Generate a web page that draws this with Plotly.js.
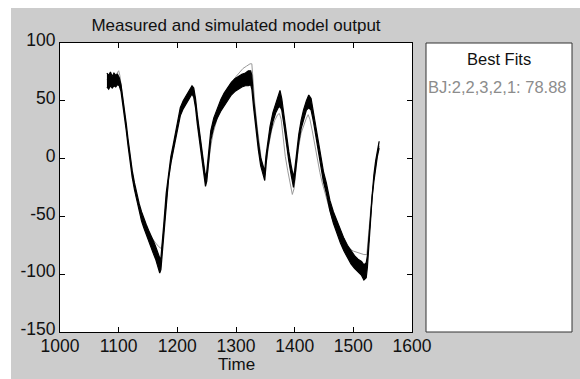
<!DOCTYPE html>
<html>
<head>
<meta charset="utf-8">
<script src="https://cdn.plot.ly/plotly-3.0.1.min.js"></script>
<style>html,body{margin:0;padding:0;background:#fff;}#chart{width:580px;height:379px;}</style>
</head>
<body>
<div id="chart"></div>
<script>
// Measured output: noisy band read as lower / upper envelope
var measTime = [1080,1083,1086,1089,1092,1095,1098,1101,1104,1107,1110,1113,1116,1119,1123,1127,1131,1135,1139,1143,1147,1151,1155,1159,1163,1167,1170,1172,1174,1177,1181,1185,1189,1193,1197,1201,1205,1210,1216,1221,1225,1228,1231,1234,1238,1242,1245,1248,1250,1253,1257,1262,1268,1274,1280,1286,1292,1298,1304,1310,1316,1321,1325,1327,1330,1334,1338,1342,1346,1349,1351,1354,1358,1363,1368,1372,1375,1378,1382,1386,1390,1394,1398,1400,1403,1407,1411,1415,1420,1424,1428,1432,1436,1440,1445,1449,1454,1460,1466,1472,1478,1484,1490,1496,1502,1508,1514,1518,1522,1524,1526,1529,1532,1535,1538,1541,1544];
var measLow  = [62,60,63,61,63,62,64,63,58,48,37,24,11,-3,-16,-27,-37,-46,-54,-60,-66,-72,-77,-82,-87,-93,-99,-96,-84,-62,-36,-18,-4,6,17,28,37,43,48,53,56,53,44,30,13,-2,-14,-24,-20,-2,16,27,35,41,46,51,55,58,60,62,63,63,64,60,44,24,8,-6,-14,-19,-6,8,20,32,40,44,45,42,28,12,-2,-14,-25,-18,-2,14,26,34,42,44,42,32,20,8,-6,-20,-30,-45,-56,-65,-73,-80,-86,-91,-95,-98,-101,-105,-103,-94,-78,-56,-34,-20,-8,2,9];
var measHigh = [74,72,75,71,74,72,73,70,64,54,43,30,17,3,-10,-21,-31,-39,-46,-52,-57,-62,-66,-71,-76,-81,-86,-86,-76,-56,-30,-12,2,12,23,34,44,50,55,60,63,61,52,38,21,6,-6,-16,-12,6,24,35,44,51,57,62,66,69,71,73,74,76,76,72,52,32,15,1,-7,-11,2,15,28,40,48,54,59,52,36,20,6,-6,-16,-10,6,21,33,42,50,55,52,40,28,15,2,-11,-21,-36,-46,-54,-62,-69,-75,-80,-84,-87,-89,-92,-90,-84,-70,-50,-28,-14,-2,8,15];
// Simulated model output (BJ model)
var simTime  = [1080,1084,1088,1092,1096,1100,1102,1106,1110,1114,1118,1122,1126,1130,1134,1138,1143,1148,1153,1158,1163,1168,1173,1175,1178,1182,1186,1190,1195,1200,1205,1210,1216,1221,1225,1227,1230,1233,1237,1241,1245,1248,1250,1252,1256,1261,1267,1273,1280,1287,1294,1300,1306,1312,1318,1324,1327,1329,1332,1336,1340,1344,1348,1350,1352,1356,1361,1366,1371,1374,1377,1380,1384,1388,1392,1396,1399,1402,1406,1411,1416,1420,1423,1426,1430,1434,1438,1443,1447,1452,1458,1464,1470,1476,1482,1488,1494,1500,1506,1512,1518,1523,1525,1528,1532,1535,1538,1541,1544];
var simValue = [68,71,70,72,73,76,72,58,40,22,6,-10,-22,-33,-42,-49,-56,-62,-66,-70,-73,-76,-78,-72,-58,-34,-14,0,14,27,38,45,50,55,59,60,52,40,22,6,-8,-18,-20,-10,8,22,34,44,53,60,66,71,75,78,80,82,82,68,48,28,10,-4,-13,-14,-2,12,25,33,38,39,34,18,2,-10,-22,-31,-26,-12,8,22,30,35,38,34,24,12,0,-12,-21,-30,-42,-52,-60,-66,-71,-75,-78,-80,-81,-82,-83,-83,-70,-50,-30,-18,-6,4,11];
var xTicks = [1000,1100,1200,1300,1400,1500,1600];
var yTicks = [-150,-100,-50,0,50,100];
var chartTitle = 'Measured and simulated model output';
var xTitle = 'Time';
var panelTitle = 'Best Fits';
var fitLabel = 'BJ:2,2,3,2,1: 78.88';

var FONT = 'Liberation Sans, Arial, sans-serif';
var W = 580, H = 379, L = 60, R = 168, T = 43, B = 47;
var pw = W - L - R, ph = H - T - B;
function px(x){ return (x - L) / pw; }
function py(y){ return (H - B - y) / ph; }

var traces = [
  {x: simTime, y: simValue, mode: 'lines', line: {color: '#999999', width: 1}, hoverinfo: 'skip'},
  {x: measTime, y: measLow, mode: 'lines', line: {color: '#000', width: 1.2}, hoverinfo: 'skip'},
  {x: measTime, y: measHigh, mode: 'lines', fill: 'tonexty', fillcolor: '#000', line: {color: '#000', width: 1.2}, hoverinfo: 'skip'}
];

var axisCommon = {
  showline: true, linecolor: '#000', linewidth: 1, mirror: 'ticks',
  ticks: 'inside', ticklen: 5, tickcolor: '#000', tickwidth: 1,
  showgrid: false, zeroline: false,
  tickfont: {family: FONT, size: 17.5, color: '#111'}
};

var layout = {
  width: W, height: H,
  margin: {l: L, r: R, t: T, b: B, pad: 0},
  paper_bgcolor: '#cccccc', plot_bgcolor: '#ffffff',
  showlegend: false, hovermode: false,
  title: {text: chartTitle, font: {family: FONT, size: 17, color: '#111'}, xref: 'paper', x: 0.5, xanchor: 'center', yref: 'container', y: 1 - 25/H, yanchor: 'middle'},
  xaxis: Object.assign({}, axisCommon, {range: [1000, 1600], tickvals: xTicks, ticktext: xTicks.map(String), ticklabelstandoff: -2}),
  yaxis: Object.assign({}, axisCommon, {range: [-150, 100], tickvals: yTicks, ticktext: yTicks.map(String), ticklabelshift: -3}),
  shapes: [
    {type: 'rect', xref: 'paper', yref: 'paper', x0: px(0), x1: px(11), y0: py(H), y1: py(0), fillcolor: '#fff', line: {width: 0}, layer: 'below'},
    {type: 'rect', xref: 'paper', yref: 'paper', x0: px(0), x1: px(W), y0: py(8), y1: py(0), fillcolor: '#fff', line: {width: 0}, layer: 'below'},
    {type: 'rect', xref: 'paper', yref: 'paper', x0: px(426), x1: px(572), y0: 0, y1: 1, fillcolor: '#fff', line: {color: '#333', width: 1}, layer: 'below'}
  ],
  annotations: [
    {text: xTitle, xref: 'paper', yref: 'paper', x: 0.5, y: py(364), xanchor: 'center', yanchor: 'middle', showarrow: false, font: {family: FONT, size: 17, color: '#111'}},
    {text: panelTitle, xref: 'paper', yref: 'paper', x: px(499), y: py(59), xanchor: 'center', yanchor: 'middle', showarrow: false, font: {family: FONT, size: 16.5, color: '#111'}},
    {text: fitLabel, xref: 'paper', yref: 'paper', x: px(426), y: py(87), xanchor: 'left', yanchor: 'middle', showarrow: false, font: {family: FONT, size: 16.5, color: '#8c8c8c'}}
  ]
};

Plotly.newPlot('chart', traces, layout, {displayModeBar: false, staticPlot: true});
</script>
</body>
</html>
